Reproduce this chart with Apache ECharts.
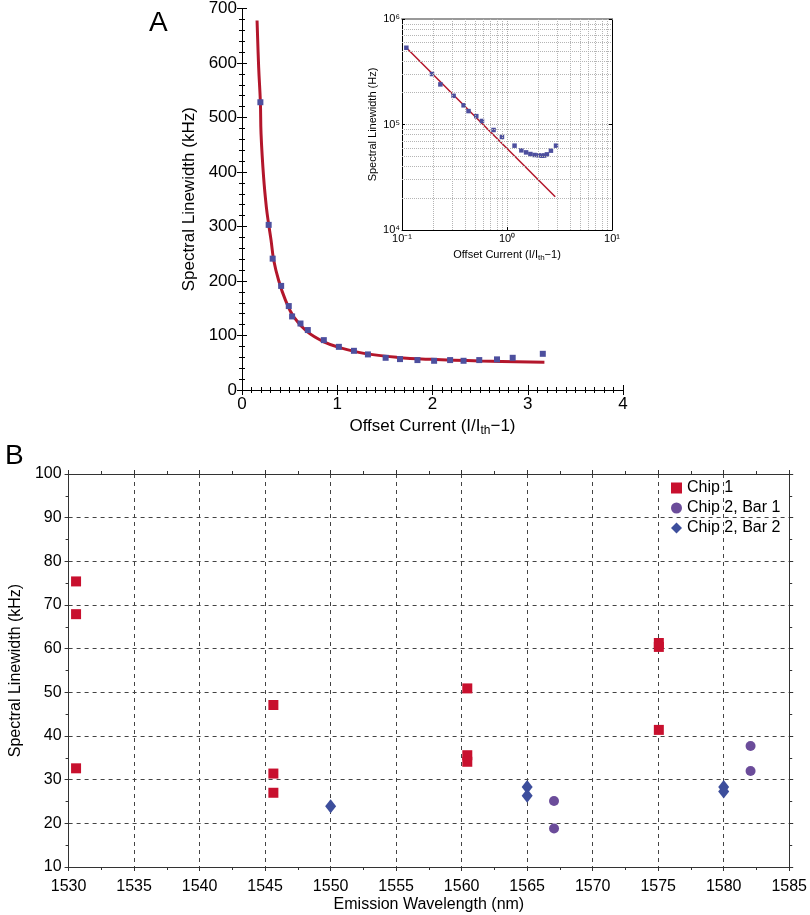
<!DOCTYPE html>
<html><head><meta charset="utf-8">
<script src="https://cdn.jsdelivr.net/npm/echarts@6/dist/echarts.min.js"></script>
<style>html,body{margin:0;padding:0;background:#fff}#c{width:810px;height:915px}</style>
</head><body><div id="c"></div>
<script>
// ---- Panel A: main linear plot ----
const aPointsX = [0.193,0.280,0.322,0.411,0.491,0.526,0.614,0.691,0.859,1.017,1.175,1.322,1.508,1.659,1.842,2.017,2.185,2.326,2.491,2.677,2.842,3.158];
const aPointsY = [528,303,241,191,154,135,122,110,91.5,79.2,71.9,65.3,59.1,56.7,54.9,53.6,54.9,53.6,54.9,56.2,59.1,66.4];
const aCurveX = [0.158,0.175,0.193,0.200,0.227,0.256,0.280,0.305,0.333,0.385,0.456,0.543,0.684,0.859,1.035,1.28,1.63,1.98,2.51,3.175];
const aCurveY = [678,592,528,470,390,335,304,275,238,201,165,134,107,88.4,77.4,67.2,59.8,56.2,53.1,50.7];
// ---- Panel A: inset log-log plot ----
const insetPointsX = [0.110,0.193,0.232,0.310,0.386,0.430,0.510,0.578,0.745,0.895,1.18,1.37,1.52,1.67,1.83,2.0,2.15,2.26,2.40,2.62,2.93];
const insetPointsY = [534000,301000,240000,187000,152000,134000,120000,108000,88700,76200,63000,56900,54400,52500,51400,51000,50600,50800,52100,56500,63000];
const insetLineX = [0.110,2.88];
const insetLineY = [534000,20700];
const insetGridX = [0.2,0.3,0.4,0.5,0.6,0.7,0.8,0.9,2,3,4,5,6,7,8,9];
const insetGridY = [20000,30000,40000,50000,60000,70000,80000,90000,200000,300000,400000,500000,600000,700000,800000,900000];
// ---- Panel B ----
const chip1 = [[1530.57,75.4],[1530.57,67.9],[1530.57,32.6],[1545.63,47.1],[1545.63,31.4],[1545.63,27.0],[1560.43,50.9],[1560.43,35.6],[1560.43,34.1],[1575.05,61.3],[1575.05,60.4],[1575.05,41.4]];
const chip2bar1 = [[1567.05,25.1],[1567.05,18.8],[1582.05,37.7],[1582.05,32.0]];
const chip2bar2 = [[1550,23.9],[1565,28.3],[1565,26.3],[1580,28.3],[1580,27.3]];
const seriesNames = ['Chip 1','Chip 2, Bar 1','Chip 2, Bar 2'];

const FONT = 'Liberation Sans, Arial, Helvetica, sans-serif';
const supMap = {'-':'\u207B','0':'\u2070','1':'\u00B9','2':'\u00B2','3':'\u00B3','4':'\u2074','5':'\u2075','6':'\u2076','7':'\u2077','8':'\u2078','9':'\u2079'};
function pow10Label(v){ const e = Math.round(Math.log10(v)); return '10' + String(e).split('').map(c=>supMap[c]).join(''); }
const zip = (xs, ys) => xs.map((x,i)=>[x, ys[i]]);

const chart = echarts.init(document.getElementById('c'), null, {renderer:'canvas'});
const blackLine = {show:true, lineStyle:{color:'#000', width:1}};
const opt = {
  animation:false,
  textStyle:{fontFamily:FONT},
  title:[
    {text:'A', left:144, top:4, textStyle:{fontFamily:FONT, fontSize:28, fontWeight:'normal', color:'#000'}},
    {text:'B', left:0, top:437, textStyle:{fontFamily:FONT, fontSize:28, fontWeight:'normal', color:'#000'}}
  ],
  grid:[
    {left:242, top:8, width:381, height:382},
    {left:402, top:19, width:210, height:211},
    {left:57, top:474, width:734, height:393}
  ],
  legend:{
    data:seriesNames, left:671, top:480, orient:'vertical', itemWidth:11, itemHeight:11, itemGap:4,
    textStyle:{fontFamily:FONT, fontSize:16, color:'#000', lineHeight:16}, padding:0
  },
  xAxis:[
    {gridIndex:0, type:'value', min:0, max:4, interval:1, position:'bottom',
     axisLine:blackLine, axisTick:{show:true, inside:false, length:5, lineStyle:{color:'#000'}},
     minorTick:{show:true, splitNumber:10, length:3, lineStyle:{color:'#000'}},
     splitLine:{show:false}, axisLabel:{fontSize:17, color:'#000', margin:6, fontFamily:FONT},
     name:'{t|Offset Current (I/I}{s|th}{t|\u22121)}', nameLocation:'middle', nameGap:25,
     nameTextStyle:{rich:{t:{fontSize:17, fontFamily:FONT, color:'#000'}, s:{fontSize:12, fontFamily:FONT, color:'#000', verticalAlign:'bottom', padding:[10,0,0,0]}}}},
    {gridIndex:0, type:'value', min:0, max:4, interval:1, position:'top',
     axisLine:blackLine, axisTick:{show:true, length:5, lineStyle:{color:'#000'}},
     minorTick:{show:true, splitNumber:10, length:3, lineStyle:{color:'#000'}},
     splitLine:{show:false}, axisLabel:{show:false}},
    {gridIndex:1, type:'log', logBase:10, min:0.1, max:10, position:'bottom',
     axisLine:blackLine, axisTick:{show:true, inside:true, length:3, lineStyle:{color:'#000'}},
     splitLine:{show:true, lineStyle:{color:'#aaa', type:'dotted'}},
     axisLabel:{fontSize:11, color:'#000', margin:3, fontFamily:FONT, formatter:pow10Label},
     name:'{t|Offset Current (I/I}{s|th}{t|\u22121)}', nameLocation:'middle', nameGap:17,
     nameTextStyle:{rich:{t:{fontSize:11, fontFamily:FONT, color:'#000'}, s:{fontSize:8, fontFamily:FONT, color:'#000', verticalAlign:'bottom', padding:[7,0,0,0]}}}},
    {gridIndex:1, type:'log', logBase:10, min:0.1, max:10, position:'top',
     axisLine:{show:true, lineStyle:{color:'#999', width:2}}, axisTick:{show:false}, splitLine:{show:false}, axisLabel:{show:false}},
    {gridIndex:2, type:'value', min:1530, max:1585, interval:5, position:'bottom',
     axisLine:{show:true, lineStyle:{color:'#333', width:1}}, axisTick:{show:true, length:4, lineStyle:{color:'#333'}},
     minorTick:{show:true, splitNumber:2, length:3, lineStyle:{color:'#333'}},
     splitLine:{show:true, lineStyle:{color:'#444', type:[4,4], width:1}},
     axisLabel:{fontSize:16, color:'#000', margin:12, fontFamily:FONT, formatter:v=>String(v)},
     name:'Emission Wavelength (nm)', nameLocation:'middle', nameGap:30,
     nameTextStyle:{fontSize:16, fontFamily:FONT, color:'#000'}},
    {gridIndex:2, type:'value', min:1530, max:1585, interval:5, position:'top',
     axisLine:{show:true, lineStyle:{color:'#333', width:1}}, axisTick:{show:true, length:4, lineStyle:{color:'#333'}},
     minorTick:{show:true, splitNumber:2, length:3, lineStyle:{color:'#333'}},
     splitLine:{show:false}, axisLabel:{show:false}}
  ],
  yAxis:[
    {gridIndex:0, type:'value', min:0, max:700, interval:100, position:'left',
     axisLine:blackLine, axisTick:{show:true, length:5, lineStyle:{color:'#000'}},
     minorTick:{show:true, splitNumber:5, length:3, lineStyle:{color:'#000'}},
     splitLine:{show:false}, axisLabel:{fontSize:17, color:'#000', margin:5, fontFamily:FONT},
     name:'Spectral Linewidth (kHz)', nameLocation:'middle', nameGap:44,
     nameTextStyle:{fontSize:17, fontFamily:FONT, color:'#000'}},
    {gridIndex:0, type:'value', min:0, max:700, interval:100, position:'right',
     axisLine:blackLine, axisTick:{show:true, length:5, lineStyle:{color:'#000'}},
     minorTick:{show:true, splitNumber:5, length:3, lineStyle:{color:'#000'}},
     splitLine:{show:false}, axisLabel:{show:false}},
    {gridIndex:1, type:'log', logBase:10, min:10000, max:1000000, position:'left',
     axisLine:blackLine, axisTick:{show:true, inside:true, length:3, lineStyle:{color:'#000'}},
     splitLine:{show:true, lineStyle:{color:'#aaa', type:'dotted'}},
     axisLabel:{fontSize:11, color:'#000', margin:2, fontFamily:FONT, formatter:pow10Label},
     name:'Spectral Linewidth (Hz)', nameLocation:'middle', nameGap:24,
     nameTextStyle:{fontSize:11, fontFamily:FONT, color:'#000'}},
    {gridIndex:1, type:'log', logBase:10, min:10000, max:1000000, position:'right',
     axisLine:blackLine, axisTick:{show:true, inside:true, length:3, lineStyle:{color:'#000'}},
     splitLine:{show:false}, axisLabel:{show:false}},
    {gridIndex:2, type:'value', min:10, max:100, interval:10, position:'left',
     axisLine:{show:true, lineStyle:{color:'#333', width:1}}, axisTick:{show:true, length:4, lineStyle:{color:'#333'}},
     minorTick:{show:true, splitNumber:2, length:3, lineStyle:{color:'#333'}},
     splitLine:{show:true, lineStyle:{color:'#444', type:[4,4], width:1}},
     axisLabel:{fontSize:16, color:'#000', margin:7, fontFamily:FONT},
     name:'Spectral Linewidth (kHz)', nameLocation:'middle', nameGap:38,
     nameTextStyle:{fontSize:16, fontFamily:FONT, color:'#000'}},
    {gridIndex:2, type:'value', min:10, max:100, interval:10, position:'right',
     axisLine:{show:true, lineStyle:{color:'#333', width:1}}, axisTick:{show:true, length:4, lineStyle:{color:'#333'}},
     minorTick:{show:true, splitNumber:2, length:3, lineStyle:{color:'#333'}},
     splitLine:{show:false}, axisLabel:{show:false}}
  ],
  series:[
    {type:'line', xAxisIndex:0, yAxisIndex:0, data:zip(aCurveX,aCurveY), smooth:0.4, showSymbol:false,
     lineStyle:{color:'#b3162b', width:3}, z:2},
    {type:'scatter', xAxisIndex:0, yAxisIndex:0, data:zip(aPointsX,aPointsY), symbol:'rect', symbolSize:6,
     itemStyle:{color:'#4d4f9e', opacity:1}, z:3},
    {type:'line', xAxisIndex:2, yAxisIndex:2, data:[], showSymbol:false, silent:true,
     markLine:{silent:true, symbol:'none', label:{show:false}, lineStyle:{color:'#b5b5b5', type:'dotted', width:1},
       data: insetGridX.map(v=>({xAxis:v})).concat(insetGridY.map(v=>({yAxis:v})))}},
    {type:'line', xAxisIndex:2, yAxisIndex:2, data:zip(insetLineX,insetLineY), showSymbol:false,
     lineStyle:{color:'#b3162b', width:1.5}, z:3},
    {type:'scatter', xAxisIndex:2, yAxisIndex:2, data:zip(insetPointsX,insetPointsY), symbol:'rect', symbolSize:4.5,
     itemStyle:{color:'#4d4f9e', opacity:1}, z:4},
    {name:seriesNames[0], type:'scatter', xAxisIndex:4, yAxisIndex:4, data:chip1, symbol:'rect', symbolSize:10,
     itemStyle:{color:'#c8102e', opacity:1}},
    {name:seriesNames[1], type:'scatter', xAxisIndex:4, yAxisIndex:4, data:chip2bar1, symbol:'circle', symbolSize:10,
     itemStyle:{color:'#6b4c9a', opacity:1}},
    {name:seriesNames[2], type:'scatter', xAxisIndex:4, yAxisIndex:4, data:chip2bar2, symbol:'diamond', symbolSize:[11,14],
     itemStyle:{color:'#3d4e9c', opacity:1}}
  ]
};
chart.setOption(opt);
</script></body></html>
